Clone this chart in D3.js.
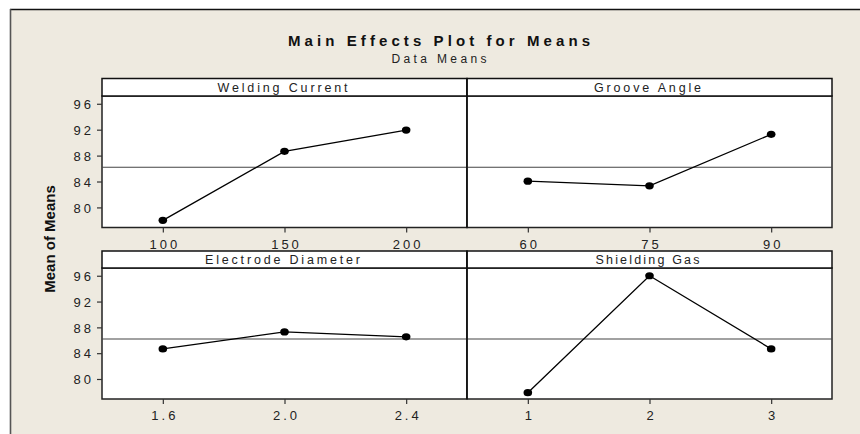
<!DOCTYPE html>
<html>
<head>
<meta charset="utf-8">
<script src="https://cdn.jsdelivr.net/npm/d3@7"></script>
<style>
  html, body { margin: 0; padding: 0; background: #ffffff; }
  svg { display: block; }
  text { font-family: "Liberation Sans", Arial, sans-serif; }
</style>
</head>
<body>
<svg id="chart" width="860" height="434"></svg>
<script>
// ---- data ----
const factors = ["Welding Current", "Groove Angle", "Electrode Diameter", "Shielding Gas"];
const levelsWC = ["100", "150", "200"];
const levelsGA = ["60", "75", "90"];
const levelsED = ["1.6", "2.0", "2.4"];
const levelsSG = ["1", "2", "3"];
const meansWC = [78.0, 88.66, 91.94];
const meansGA = [84.05, 83.33, 91.28];
const meansED = [84.66, 87.30, 86.53];
const meansSG = [77.88, 96.0, 84.66];
const overallMean = 86.2;
const yTicks = [80, 84, 88, 92, 96];

const title = "Main Effects Plot for Means";
const subtitle = "Data Means";
const yLabel = "Mean of Means";

const panels = [
  { name: factors[0], levels: levelsWC, means: meansWC, col: 0, row: 0 },
  { name: factors[1], levels: levelsGA, means: meansGA, col: 1, row: 0 },
  { name: factors[2], levels: levelsED, means: meansED, col: 0, row: 1 },
  { name: factors[3], levels: levelsSG, means: meansSG, col: 1, row: 1 }
];

// ---- layout ----
const svg = d3.select("#chart");
const beige = "#eeeae0";
const colX = [102, 467, 832];
const rows = [
  { stripTop: 78.5, plotTop: 96, plotBottom: 227.5 },
  { stripTop: 251, plotTop: 268, plotBottom: 399 }
];
const yDomain = [76.9, 97.2];

// background frame
svg.append("rect").attr("x", 10).attr("y", 9).attr("width", 860).attr("height", 440).attr("fill", beige);
svg.append("line").attr("x1", 10).attr("x2", 860).attr("y1", 9.5).attr("y2", 9.5)
  .attr("stroke", "#111").attr("stroke-width", 1.6);
svg.append("line").attr("x1", 10.5).attr("x2", 10.5).attr("y1", 9).attr("y2", 434)
  .attr("stroke", "#555").attr("stroke-width", 1.6);

// titles
svg.append("text").attr("x", 439).attr("y", 45.7).attr("text-anchor", "middle")
  .attr("font-size", 15).attr("font-weight", "bold").attr("fill", "#111")
  .attr("textLength", 302).attr("lengthAdjust", "spacing").text(title);
svg.append("text").attr("x", 439).attr("y", 62.7).attr("text-anchor", "middle")
  .attr("font-size", 12).attr("fill", "#222")
  .attr("textLength", 95).attr("lengthAdjust", "spacing").text(subtitle);

// y label
svg.append("text").attr("transform", "translate(55,239) rotate(-90)")
  .attr("text-anchor", "middle").attr("font-size", 15).attr("font-weight", "bold")
  .attr("fill", "#111").text(yLabel);

const stripLens = { "Welding Current": 130, "Groove Angle": 107, "Electrode Diameter": 155, "Shielding Gas": 104 };
const tickLS = 3;

panels.forEach(p => {
  const x0 = colX[p.col], x1 = colX[p.col + 1];
  const r = rows[p.row];
  const g = svg.append("g");

  const x = d3.scalePoint().domain(p.levels).range([x0, x1]).padding(0.5);
  const y = d3.scaleLinear().domain(yDomain).range([r.plotBottom, r.plotTop]);

  // plot area
  g.append("rect").attr("x", x0).attr("y", r.plotTop).attr("width", x1 - x0)
    .attr("height", r.plotBottom - r.plotTop).attr("fill", "#fff")
    .attr("stroke", "#222").attr("stroke-width", 1.5);
  // strip
  g.append("rect").attr("x", x0).attr("y", r.stripTop).attr("width", x1 - x0)
    .attr("height", r.plotTop - r.stripTop).attr("fill", "#fff")
    .attr("stroke", "#111").attr("stroke-width", 1.5);
  g.append("text").attr("x", (x0 + x1) / 2 - 2).attr("y", r.plotTop - 3.8)
    .attr("text-anchor", "middle").attr("font-size", 12.5).attr("fill", "#222")
    .attr("textLength", stripLens[p.name]).attr("lengthAdjust", "spacing").text(p.name);

  // reference line
  g.append("line").attr("x1", x0).attr("x2", x1)
    .attr("y1", y(overallMean)).attr("y2", y(overallMean))
    .attr("stroke", "#444").attr("stroke-width", 1.2);

  // x axis
  const xa = g.append("g").attr("transform", `translate(0,${r.plotBottom})`)
    .call(d3.axisBottom(x).tickSize(5).tickSizeOuter(0));
  xa.select(".domain").remove();
  xa.selectAll("line").attr("stroke", "#333").attr("stroke-width", 1.2);
  xa.selectAll("text").attr("font-size", 13).attr("fill", "#222")
    .attr("letter-spacing", tickLS).attr("dx", tickLS / 2).attr("dy", null).attr("y", 21);

  // y axis (left column only)
  if (p.col === 0) {
    const ya = g.append("g").attr("transform", `translate(${x0},0)`)
      .call(d3.axisLeft(y).tickValues(yTicks).tickSize(5).tickSizeOuter(0));
    ya.select(".domain").remove();
    ya.selectAll("line").attr("stroke", "#333").attr("stroke-width", 1.2);
    ya.selectAll("text").attr("font-size", 13).attr("fill", "#222")
      .attr("letter-spacing", tickLS).attr("x", -11).attr("dx", tickLS).attr("dy", "0.36em");
  }

  // data line and points
  const pts = p.levels.map((l, i) => [x(l), y(p.means[i])]);
  g.append("path").attr("d", d3.line()(pts)).attr("fill", "none")
    .attr("stroke", "#000").attr("stroke-width", 1.3);
  g.selectAll("ellipse.pt").data(pts).join("ellipse").attr("class", "pt")
    .attr("cx", d => d[0]).attr("cy", d => d[1]).attr("rx", 4.3).attr("ry", 3.6)
    .attr("fill", "#000");
});

// vertical divider between columns
svg.append("line").attr("x1", colX[1]).attr("x2", colX[1]).attr("y1", rows[0].stripTop).attr("y2", rows[0].plotBottom)
  .attr("stroke", "#111").attr("stroke-width", 1.5);
svg.append("line").attr("x1", colX[1]).attr("x2", colX[1]).attr("y1", rows[1].stripTop).attr("y2", rows[1].plotBottom)
  .attr("stroke", "#111").attr("stroke-width", 1.5);
</script>
</body>
</html>
